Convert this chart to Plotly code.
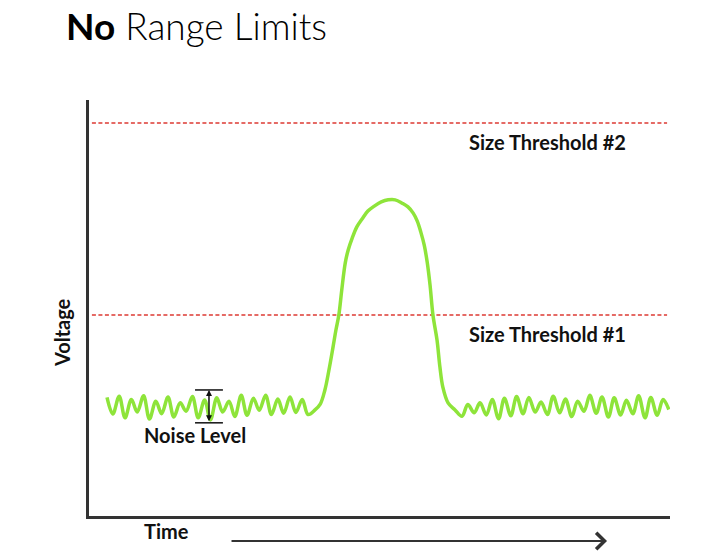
import plotly.graph_objects as go

# ---- data (arbitrary units: time 0-100, voltage 0-100) ----
left_noise_t = [3.1, 4.1, 5.2, 6.2, 7.3, 8.3, 9.4, 10.4, 11.5, 12.5, 13.6, 14.6, 15.7, 16.7, 17.8,
                18.8, 19.9, 20.9, 22.0, 23.0, 24.1, 25.1, 26.2, 27.2, 28.3, 29.3, 30.4, 31.4,
                32.5, 33.5, 34.6, 35.6, 36.7, 37.7]
left_noise_v = [28.5, 24.5, 28.8, 23.6, 28.0, 25.0, 28.9, 23.3, 27.6, 24.6, 28.6, 23.8, 27.2, 25.2,
                28.7, 23.6, 27.9, 23.1, 28.4, 25.0, 27.6, 23.9, 29.0, 24.2, 28.3, 25.4, 29.0,
                24.4, 28.1, 24.7, 28.6, 24.9, 28.0, 24.4]

pulse_t = [38.9, 39.8, 40.6, 41.3, 42.0, 42.5, 43.0, 43.5, 44.1, 44.6, 45.3, 46.1, 47.0, 48.0,
           49.1, 50.3, 51.5, 52.7, 53.9, 54.9, 55.8, 56.5, 57.1, 57.7, 58.2, 58.7, 59.2,
           59.9, 60.4, 60.9, 61.8, 63.0]
pulse_v = [25.5, 26.9, 30.3, 35.1, 40.6, 44.7, 48.3, 54.3, 60.8, 63.9, 66.8, 69.5, 71.4, 73.3,
           74.5, 75.5, 76.0, 76.0, 75.2, 74.3, 72.8, 70.9, 68.3, 65.1, 61.1, 55.5, 48.3,
           42.3, 35.8, 31.0, 27.2, 25.5]

right_noise_t = [64.2, 65.2, 66.3, 67.3, 68.4, 69.4, 70.5, 71.5, 72.6, 73.6, 74.7, 75.7, 76.8,
                 77.8, 78.9, 79.9, 81.0, 82.0, 83.1, 84.1, 85.2, 86.2, 87.3, 88.3, 89.4, 90.4,
                 91.5, 92.5, 93.6, 94.6, 95.7, 96.7, 97.8, 98.8, 99.8]
right_noise_v = [24.0, 26.8, 24.8, 27.2, 24.3, 28.0, 23.4, 28.3, 24.1, 28.7, 24.6, 28.5, 25.0,
                 27.4, 24.4, 28.8, 24.8, 28.1, 23.9, 27.6, 25.2, 29.0, 24.7, 28.6, 23.8, 28.4,
                 24.3, 27.8, 24.6, 28.9, 23.6, 28.5, 24.2, 28.0, 25.6]

threshold_levels = [48.3, 94.5]
threshold_labels = ["Size Threshold #1", "Size Threshold #2"]
noise_level_range = [22.4, 30.3]   # bottom, top of noise band marker
noise_marker_t = 20.65

signal_t = left_noise_t + pulse_t + right_noise_t
signal_v = left_noise_v + pulse_v + right_noise_v

GREEN = "#8ee43a"
RED = "#dd3a33"
AXIS = "#333333"
TXT = "#111111"
FONT = "Lato"

fig = go.Figure()

# thresholds
for lvl in threshold_levels:
    fig.add_trace(go.Scatter(x=[0.5, 99.5], y=[lvl, lvl], mode="lines",
                             line=dict(color=RED, width=1.5, dash="4px,2.5px"),
                             hoverinfo="skip", showlegend=False))

# signal
fig.add_trace(go.Scatter(x=signal_t, y=signal_v, mode="lines",
                         line=dict(color=GREEN, width=3.5, shape="spline", smoothing=1.0),
                         showlegend=False))

# noise level marker caps and double arrow
cap_half = 2.4
for yv in noise_level_range:
    fig.add_shape(type="line", x0=noise_marker_t - cap_half, x1=noise_marker_t + cap_half,
                  y0=yv, y1=yv, xref="x", yref="y", line=dict(color=TXT, width=1.5))
fig.add_annotation(x=noise_marker_t, y=noise_level_range[1], ax=noise_marker_t, ay=noise_level_range[0],
                   xref="x", yref="y", axref="x", ayref="y", text="", showarrow=True,
                   arrowside="end+start", arrowhead=2, arrowsize=0.8, arrowwidth=1.5, arrowcolor=TXT)

lab_font = dict(family=FONT, size=20, color=TXT, weight="bold")

fig.add_annotation(x=18.2, y=19.5, xref="x", yref="y", text="Noise Level", showarrow=False,
                   font=lab_font)
for lvl, lab in zip(threshold_levels, threshold_labels):
    fig.add_annotation(x=79.0, y=lvl - 4.6, xref="x", yref="y", text=lab, showarrow=False,
                       font=lab_font)

# axis labels
fig.add_annotation(x=-0.0465, y=0.442, xref="paper", yref="paper", xanchor="center",
                   yanchor="middle", text="Voltage", textangle=-90, showarrow=False, font=lab_font)
fig.add_annotation(x=0.134, y=-0.036, xref="paper", yref="paper", xanchor="center",
                   yanchor="middle", text="Time", showarrow=False, font=lab_font)
# time arrow
fig.add_annotation(x=0.8916, y=-0.0601, xref="paper", yref="paper", ax=-377, ay=0, text="",
                   showarrow=True, arrowhead=4, arrowsize=1.6, arrowwidth=2, arrowcolor=AXIS)

# title
fig.add_annotation(x=-0.043, y=1.18, xref="paper", yref="paper", xanchor="left", yanchor="middle",
                   text="<b>No</b> Range Limits", showarrow=False,
                   font=dict(family=FONT, size=37, color="#000000", weight=300))

fig.update_xaxes(range=[0, 100], showline=True, linecolor=AXIS, linewidth=2.5, showgrid=False,
                 zeroline=False, showticklabels=False, ticks="", fixedrange=True)
fig.update_yaxes(range=[0, 100], showline=True, linecolor=AXIS, linewidth=2.5, showgrid=False,
                 zeroline=False, showticklabels=False, ticks="", fixedrange=True)

fig.update_layout(width=718, height=560, margin=dict(l=89, r=48, t=100, b=44),
                  paper_bgcolor="white", plot_bgcolor="white", showlegend=False)

fig.write_html("out.html")
